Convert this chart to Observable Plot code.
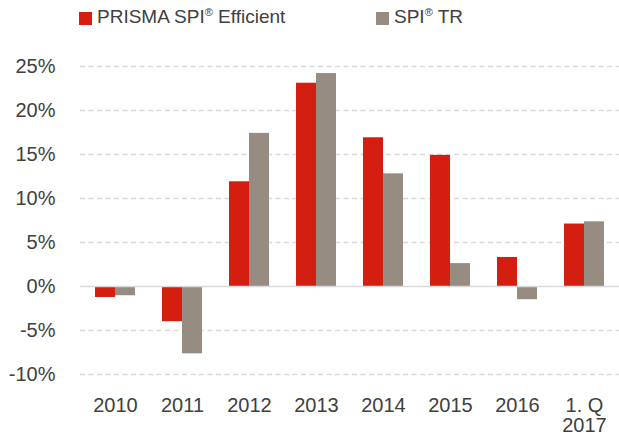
<!DOCTYPE html>
<html>
<head>
<meta charset="utf-8">
<script src="https://cdn.jsdelivr.net/npm/d3@7"></script>
<script src="https://cdn.jsdelivr.net/npm/@observablehq/plot@0.6"></script>
<style>
  body { margin: 0; background: #fff; font-family: "Liberation Sans", Arial, sans-serif; }
  #wrap { width: 619px; }
  #legend { position: relative; height: 40px; color: #404040; font-size: 19px; }
  .sw { position: absolute; top: 12px; width: 13px; height: 13px; }
  .lt { position: absolute; top: 6px; line-height: 22px; white-space: nowrap; }
  .lt sup { font-size: 11px; vertical-align: 7px; line-height: 0; }
</style>
</head>
<body>
<div id="wrap">
  <div id="legend"></div>
  <div id="chart"></div>
</div>
<script>
const categories = ["2010", "2011", "2012", "2013", "2014", "2015", "2016", "1. Q\n2017"];
const prismaValues = [-1.25, -4.0, 11.9, 23.1, 16.9, 14.9, 3.3, 7.1];
const spiValues = [-1.05, -7.65, 17.4, 24.2, 12.8, 2.6, -1.5, 7.35];
const seriesNames = ["PRISMA SPI® Efficient", "SPI® TR"];
const seriesColors = ["#d41e10", "#978c81"];
const gridValues = [-10, -5, 5, 10, 15, 20, 25];

const prismaData = categories.map((c, i) => ({cat: c, value: prismaValues[i]}));
const spiData = categories.map((c, i) => ({cat: c, value: spiValues[i]}));

// legend
const legend = document.getElementById("legend");
const legendPos = [[79, 97], [376, 394]];
seriesNames.forEach((name, i) => {
  const sw = document.createElement("div");
  sw.className = "sw";
  sw.style.left = legendPos[i][0] + "px";
  sw.style.background = seriesColors[i];
  legend.appendChild(sw);
  const t = document.createElement("div");
  t.className = "lt";
  t.style.left = legendPos[i][1] + "px";
  t.innerHTML = name.replace("®", "<sup>®</sup>");
  legend.appendChild(t);
});

const chart = Plot.plot({
  width: 619,
  height: 395,
  marginLeft: 80,
  marginRight: 0,
  marginTop: 26,
  marginBottom: 61,
  style: {fontFamily: "'Liberation Sans', Arial, sans-serif", fontSize: "20px", color: "#404040", background: "#fff"},
  x: {type: "band", domain: categories, paddingInner: 0.4066, paddingOuter: 0.2033, tickSize: 0, tickPadding: 23, label: null},
  y: {domain: [-10, 25], ticks: 7, tickFormat: d => d + "%", tickSize: 0, tickPadding: 25, label: null},
  marks: [
    Plot.ruleY(gridValues, {stroke: "#d9d9d9", strokeWidth: 1.3, strokeDasharray: "5,3.5"}),
    Plot.barY(prismaData, {x: "cat", y: "value", fill: seriesColors[0], insetRight: 20}),
    Plot.barY(spiData, {x: "cat", y: "value", fill: seriesColors[1], insetLeft: 20}),
    Plot.ruleY([0], {stroke: "#d9d9d9", strokeWidth: 1.5})
  ]
});
document.getElementById("chart").appendChild(chart);
</script>
</body>
</html>
